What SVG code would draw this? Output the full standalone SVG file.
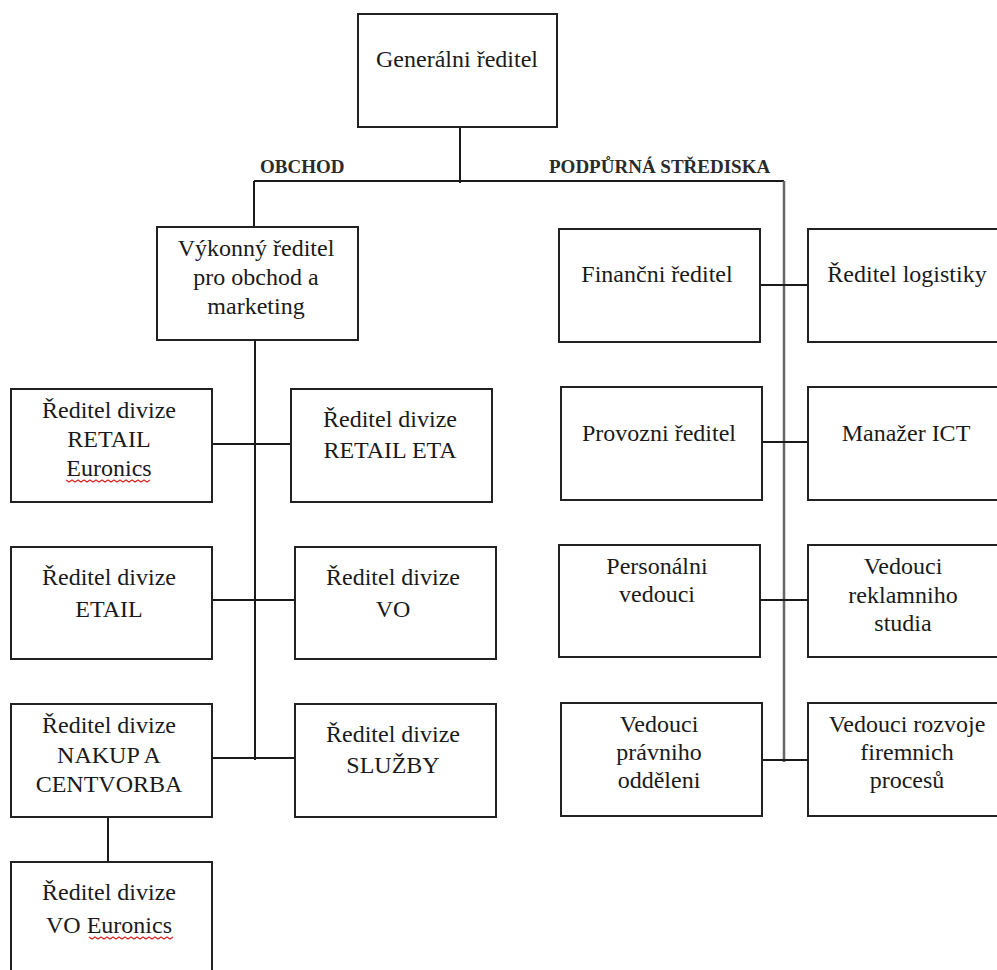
<svg xmlns="http://www.w3.org/2000/svg" width="997" height="970" viewBox="0 0 997 970">
<style>
.box{fill:#fff;stroke:#222;stroke-width:2}
.t{font-family:"Liberation Serif","Times New Roman",serif;font-size:24px;fill:#1a1a1a;text-anchor:middle}
.lbl{font-family:"Liberation Serif","Times New Roman",serif;font-size:19px;font-weight:bold;fill:#2a2a2a}
.ln{stroke:#1a1a1a;stroke-width:2;fill:none}
.ln2{stroke:#666;stroke-width:2.5;fill:none}
.sq{stroke:#d22;stroke-width:1.2;fill:none}
</style>
<rect width="997" height="970" fill="#fff"/>
<g id="connectors">
<line class="ln" x1="460" y1="127" x2="460" y2="183"/>
<line class="ln" x1="254" y1="181" x2="784" y2="181"/>
<line class="ln" x1="254" y1="181" x2="254" y2="228"/>
<line class="ln2" x1="784" y1="181" x2="784" y2="762"/>
<line class="ln" x1="255" y1="340" x2="255" y2="760"/>
<line class="ln" x1="209" y1="444" x2="291" y2="444"/>
<line class="ln" x1="208" y1="600" x2="294" y2="600"/>
<line class="ln" x1="212" y1="758" x2="295" y2="758"/>
<line class="ln" x1="108" y1="817" x2="108" y2="865"/>
<line class="ln" x1="760" y1="285" x2="808" y2="285"/>
<line class="ln" x1="757" y1="442" x2="808" y2="442"/>
<line class="ln" x1="760" y1="600" x2="808" y2="600"/>
<line class="ln" x1="759" y1="760" x2="808" y2="760"/>
</g>
<g id="labels">
<text class="lbl" x="260" y="173">OBCHOD</text>
<text class="lbl" x="549" y="173">PODPŮRNÁ STŘEDISKA</text>
</g>
<g id="generalni">
<rect class="box" x="358" y="14" width="199" height="113"/>
<text class="t" x="457" y="67">Generálni ředitel</text>
</g>
<g id="vykonny">
<rect class="box" x="157" y="227" width="201" height="113"/>
<text class="t" x="256" y="256">Výkonný ředitel</text>
<text class="t" x="256" y="285">pro obchod a</text>
<text class="t" x="256" y="314">marketing</text>
</g>
<g id="retail-euronics">
<rect class="box" x="11" y="389" width="201" height="113"/>
<text class="t" x="109" y="418">Ředitel divize</text>
<text class="t" x="109" y="447">RETAIL</text>
<text class="t" x="109" y="476">Euronics</text>
<path class="sq" d="M66 480 l3 2 l3 -2 l3 2 l3 -2 l3 2 l3 -2 l3 2 l3 -2 l3 2 l3 -2 l3 2 l3 -2 l3 2 l3 -2 l3 2 l3 -2 l3 2 l3 -2 l3 2 l3 -2 l3 2 l3 -2 l3 2 l3 -2 l3 2 l3 -2 l3 2 l3 -2"/>
</g>
<g id="retail-eta">
<rect class="box" x="291" y="389" width="201" height="113"/>
<text class="t" x="390" y="427">Ředitel divize</text>
<text class="t" x="390" y="458">RETAIL ETA</text>
</g>
<g id="etail">
<rect class="box" x="11" y="547" width="201" height="112"/>
<text class="t" x="109" y="585">Ředitel divize</text>
<text class="t" x="109" y="617">ETAIL</text>
</g>
<g id="vo">
<rect class="box" x="295" y="547" width="201" height="112"/>
<text class="t" x="393" y="585">Ředitel divize</text>
<text class="t" x="393" y="617">VO</text>
</g>
<g id="nakup">
<rect class="box" x="11" y="704" width="201" height="113"/>
<text class="t" x="109" y="733">Ředitel divize</text>
<text class="t" x="109" y="763">NAKUP A</text>
<text class="t" x="109" y="792">CENTVORBA</text>
</g>
<g id="sluzby">
<rect class="box" x="295" y="704" width="201" height="113"/>
<text class="t" x="393" y="742">Ředitel divize</text>
<text class="t" x="393" y="773">SLUŽBY</text>
</g>
<g id="vo-euronics">
<rect class="box" x="11" y="862" width="201" height="120"/>
<text class="t" x="109" y="900">Ředitel divize</text>
<text class="t" x="109" y="933">VO Euronics</text>
<path class="sq" d="M89 937 l3 2 l3 -2 l3 2 l3 -2 l3 2 l3 -2 l3 2 l3 -2 l3 2 l3 -2 l3 2 l3 -2 l3 2 l3 -2 l3 2 l3 -2 l3 2 l3 -2 l3 2 l3 -2 l3 2 l3 -2 l3 2 l3 -2 l3 2 l3 -2 l3 2 l3 -2"/>
</g>
<g id="financni">
<rect class="box" x="559" y="229" width="201" height="113"/>
<text class="t" x="657" y="282">Finančni ředitel</text>
</g>
<g id="logistika">
<rect class="box" x="808" y="229" width="200" height="113"/>
<text class="t" x="907" y="282">Ředitel logistiky</text>
</g>
<g id="provozni">
<rect class="box" x="561" y="387" width="201" height="113"/>
<text class="t" x="659" y="441">Provozni ředitel</text>
</g>
<g id="ict">
<rect class="box" x="808" y="387" width="200" height="113"/>
<text class="t" x="906" y="441">Manažer ICT</text>
</g>
<g id="personalni">
<rect class="box" x="559" y="545" width="201" height="112"/>
<text class="t" x="657" y="574">Personálni</text>
<text class="t" x="657" y="602">vedouci</text>
</g>
<g id="reklama">
<rect class="box" x="808" y="545" width="200" height="112"/>
<text class="t" x="903" y="574">Vedouci</text>
<text class="t" x="903" y="603">reklamniho</text>
<text class="t" x="903" y="631">studia</text>
</g>
<g id="pravni">
<rect class="box" x="561" y="703" width="201" height="113"/>
<text class="t" x="659" y="732">Vedouci</text>
<text class="t" x="659" y="760">právniho</text>
<text class="t" x="659" y="788">odděleni</text>
</g>
<g id="rozvoj">
<rect class="box" x="808" y="703" width="200" height="113"/>
<text class="t" x="907" y="732">Vedouci rozvoje</text>
<text class="t" x="907" y="760">firemnich</text>
<text class="t" x="907" y="788">procesů</text>
</g>
</svg>
